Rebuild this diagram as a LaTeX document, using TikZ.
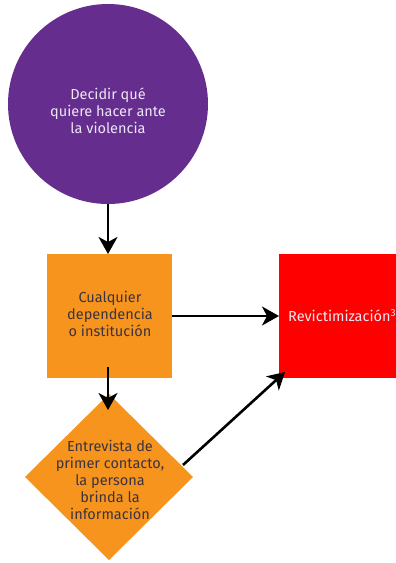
\documentclass[tikz,border=0pt]{standalone}
\usepackage{fontspec}
\setmainfont{Fira Sans}
\usetikzlibrary{arrows.meta,shapes.geometric}
\definecolor{cpurple}{HTML}{652D8E}
\definecolor{corange}{HTML}{F7941D}
\definecolor{cred}{HTML}{FF0000}
\definecolor{ctxt}{HTML}{3B3340}
\definecolor{clight}{HTML}{EDE6F5}
\tikzset{
  conn/.style={line width=2.6pt,-{Stealth[length=17pt,width=19pt,inset=5pt]}},
  lbl/.style={align=center,font=\fontsize{14.5}{17}\selectfont,inner sep=0pt}
}
\begin{document}
\begin{tikzpicture}[x=1pt,y=-1pt]
\useasboundingbox (0,0) rectangle (396,563);
\fill[white] (0,0) rectangle (396,563);
\fill[cpurple] (108,104) circle (100);
\node[lbl,text=clight] (c) at (108,111) {Decidir qué\\quiere hacer ante\\la violencia};
\coordinate (cb) at (108,204);
\fill[corange] (47,254) rectangle (172,378);
\node[lbl,text=ctxt] (s) at (110,314) {Cualquier\\dependencia\\o institución};
\coordinate (st) at (108,254);
\coordinate (sb) at (108,367);
\coordinate (sr) at (172,316);
\fill[cred] (279,254) rectangle (404,378);
\node[lbl,text=clight,anchor=west] (r) at (288,316) {Revictimización\textsuperscript{3}};
\coordinate (rl) at (279,316);
\coordinate (rc) at (285,372);
\fill[corange] (109,394) -- (193,477) -- (109,560) -- (25,477) -- cycle;
\node[lbl,text=ctxt] (d) at (110,480) {Entrevista de\\primer contacto,\\la persona\\brinda la\\información};
\coordinate (dt) at (108,410);
\coordinate (dr) at (183,465);
\draw[conn] (cb) -- (st);
\draw[conn] (sb) -- (dt);
\draw[conn] (sr) -- (rl);
\draw[conn] (dr) -- (rc);
\end{tikzpicture}
\end{document}
